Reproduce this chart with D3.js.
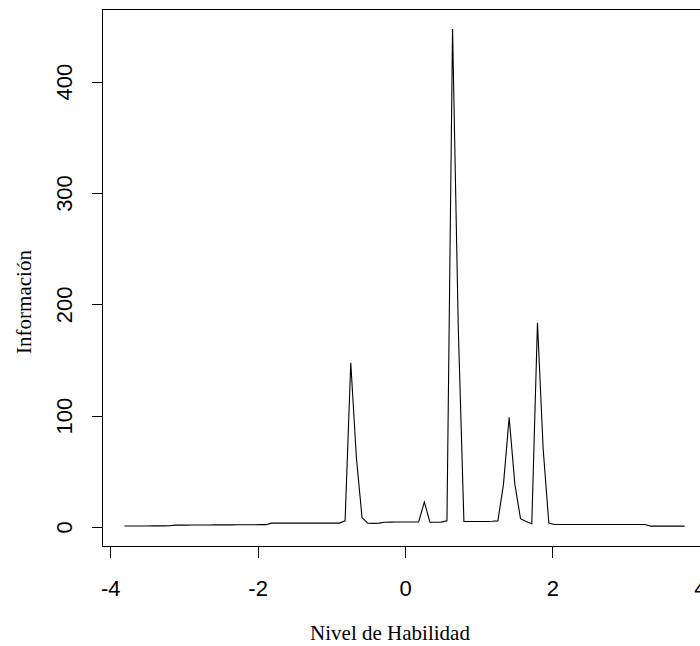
<!DOCTYPE html>
<html>
<head>
<meta charset="utf-8">
<script src="https://cdnjs.cloudflare.com/ajax/libs/d3/7.8.5/d3.min.js"></script>
<style>
  html, body { margin: 0; padding: 0; background: #fff; }
  svg { display: block; }
</style>
</head>
<body>
<div id="chart"></div>
<script>
// Ability grid (theta) and test information values
const theta = [
  -3.800, -3.723, -3.646, -3.570, -3.493, -3.416, -3.339, -3.263, -3.186, -3.109,
  -3.032, -2.956, -2.879, -2.802, -2.725, -2.648, -2.572, -2.495, -2.418, -2.341,
  -2.265, -2.188, -2.111, -2.034, -1.958, -1.881, -1.804, -1.727, -1.651, -1.574,
  -1.497, -1.420, -1.343, -1.267, -1.190, -1.113, -1.036, -0.960, -0.883, -0.806,
  -0.729, -0.652, -0.576, -0.499, -0.422, -0.345, -0.269, -0.192, -0.115, -0.038,
   0.038,  0.115,  0.192,  0.269,  0.345,  0.422,  0.499,  0.576,  0.652,  0.729,
   0.806,  0.883,  0.960,  1.036,  1.113,  1.190,  1.267,  1.343,  1.420,  1.497,
   1.574,  1.651,  1.727,  1.804,  1.881,  1.958,  2.034,  2.111,  2.188,  2.265,
   2.341,  2.418,  2.495,  2.572,  2.648,  2.725,  2.802,  2.879,  2.956,  3.032,
   3.109,  3.186,  3.263,  3.339,  3.416,  3.493,  3.570,  3.646,  3.723,  3.800
];
const info = [
  0.4, 0.4, 0.4, 0.4, 0.4, 0.5, 0.5, 0.5, 0.6, 1.2,
  1.2, 1.2, 1.3, 1.3, 1.3, 1.3, 1.4, 1.4, 1.4, 1.4,
  1.5, 1.5, 1.5, 1.5, 1.6, 1.6, 3.0, 3.0, 3.0, 3.0,
  3.0, 3.0, 3.0, 3.0, 3.0, 3.0, 3.0, 3.0, 3.0, 5.0,
  147, 61, 8, 3.0, 2.8, 3.0, 3.8, 3.9, 4.0, 4.0,
  4.0, 4.0, 4.0, 22, 3.8, 3.8, 3.9, 5.0, 447, 180,
  4.5, 4.5, 4.5, 4.5, 4.5, 4.6, 5.0, 38, 98, 38,
  7.0, 4.5, 2.5, 183, 70, 3.0, 1.8, 1.8, 1.8, 1.8,
  1.8, 1.8, 1.8, 1.8, 1.8, 1.8, 1.8, 1.8, 1.8, 1.8,
  1.8, 1.8, 1.8, 0.3, 0.3, 0.3, 0.3, 0.3, 0.3, 0.3
];
const xTicks = [-4, -2, 0, 2, 4];
const yTicks = [0, 100, 200, 300, 400];
const xLabel = "Nivel de Habilidad";
const yLabel = "Información";

const W = 700, H = 646;
const plot = { left: 102, top: 9, right: 707, bottom: 546 };

// R-style 4% axis expansion
function rExpand(ext) {
  const r = ext[1] - ext[0];
  return [ext[0] - 0.04 * r, ext[1] + 0.04 * r];
}

const x = d3.scaleLinear().domain(rExpand(d3.extent(theta))).range([plot.left, plot.right]);
const y = d3.scaleLinear().domain(rExpand(d3.extent(info))).range([plot.bottom, plot.top]);

const svg = d3.select("#chart").append("svg")
  .attr("width", W).attr("height", H)
  .attr("viewBox", `0 0 ${W} ${H}`);

svg.append("rect").attr("width", W).attr("height", H).attr("fill", "#fff");

// data line
const pts = theta.map((t, i) => [t, info[i]]);
svg.append("path")
  .datum(pts)
  .attr("fill", "none")
  .attr("stroke", "#000")
  .attr("stroke-width", 1.1)
  .attr("stroke-linejoin", "miter")
  .attr("d", d3.line().x(d => x(d[0])).y(d => y(d[1])));

// box
svg.append("rect")
  .attr("x", plot.left + 0.5).attr("y", plot.top + 0.5)
  .attr("width", plot.right - plot.left).attr("height", plot.bottom - plot.top)
  .attr("fill", "none").attr("stroke", "#000").attr("stroke-width", 1)
  .attr("shape-rendering", "crispEdges");

// x axis
const gx = svg.append("g")
  .attr("transform", `translate(0.5,${plot.bottom + 0.5})`)
  .call(d3.axisBottom(x).tickValues(xTicks).tickSize(11).tickFormat(d3.format("d")));
gx.select(".domain").remove();
gx.selectAll(".tick line").attr("stroke", "#000").attr("shape-rendering", "crispEdges");
gx.selectAll(".tick text")
  .attr("y", 49).attr("dy", 0)
  .attr("fill", "#000")
  .style("font-family", "'Liberation Sans', Arial, sans-serif")
  .style("font-size", "22px")
  .text(d => d < 0 ? "-" + Math.abs(d) : d);

// y axis
const gy = svg.append("g")
  .attr("transform", `translate(${plot.left + 0.5},0.5)`)
  .call(d3.axisLeft(y).tickValues(yTicks).tickSize(11).tickFormat(d3.format("d")));
gy.select(".domain").remove();
gy.selectAll(".tick line").attr("stroke", "#000").attr("shape-rendering", "crispEdges");
gy.selectAll(".tick text")
  .attr("transform", "rotate(-90)")
  .attr("x", 0).attr("y", -31).attr("dy", 0)
  .attr("text-anchor", "middle")
  .attr("fill", "#000")
  .style("font-family", "'Liberation Sans', Arial, sans-serif")
  .style("font-size", "22px");

// axis titles
svg.append("text")
  .attr("x", 390).attr("y", 640)
  .attr("text-anchor", "middle")
  .attr("fill", "#000")
  .style("font-family", "'Liberation Serif', 'Times New Roman', serif")
  .style("font-size", "21px")
  .text(xLabel);

svg.append("text")
  .attr("transform", "translate(31,302) rotate(-90)")
  .attr("text-anchor", "middle")
  .attr("fill", "#000")
  .style("font-family", "'Liberation Serif', 'Times New Roman', serif")
  .style("font-size", "21px")
  .text(yLabel);
</script>
</body>
</html>
